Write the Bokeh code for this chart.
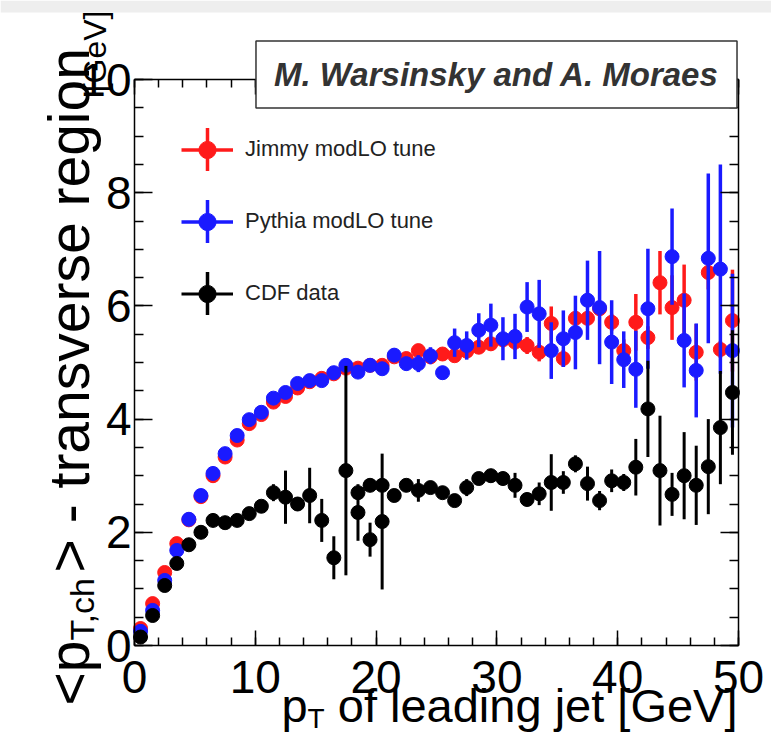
import math
from bokeh.plotting import figure
from bokeh.models import (ColumnDataSource, Range1d, LinearAxis, SingleIntervalTicker,
                          Label, Legend, LegendItem, BoxAnnotation, CustomLabelingPolicy)
from bokeh.embed import file_html
from bokeh.resources import INLINE

# ---------------- data ----------------
pt_bins = [0.5, 1.5, 2.5, 3.5, 4.5, 5.5, 6.5, 7.5, 8.5, 9.5,
           10.5, 11.5, 12.5, 13.5, 14.5, 15.5, 16.5, 17.5, 18.5, 19.5,
           20.5, 21.5, 22.5, 23.5, 24.5, 25.5, 26.5, 27.5, 28.5, 29.5,
           30.5, 31.5, 32.5, 33.5, 34.5, 35.5, 36.5, 37.5, 38.5, 39.5,
           40.5, 41.5, 42.5, 43.5, 44.5, 45.5, 46.5, 47.5, 48.5, 49.5]

jimmy_y = [0.30, 0.74, 1.29, 1.80, 2.22, 2.63, 3.00, 3.33, 3.63, 3.92,
           4.08, 4.30, 4.40, 4.55, 4.66, 4.72, 4.80, 4.90, 4.90, 4.95,
           4.95, 5.10, 5.07, 5.21, 5.10, 5.15, 5.12, 5.20, 5.27, 5.33,
           5.40, 5.36, 5.30, 5.18, 5.69, 5.07, 5.78, 5.78, 5.95, 5.71,
           5.21, 5.71, 5.44, 6.41, 5.97, 6.10, 5.18, 6.59, 5.23, 5.74]
jimmy_err = [0.03, 0.03, 0.03, 0.03, 0.03, 0.03, 0.03, 0.03, 0.03, 0.03,
             0.04, 0.04, 0.04, 0.05, 0.05, 0.05, 0.05, 0.06, 0.06, 0.06,
             0.07, 0.08, 0.08, 0.09, 0.09, 0.10, 0.10, 0.11, 0.12, 0.12,
             0.13, 0.14, 0.15, 0.16, 0.30, 0.15, 0.12, 0.12, 0.12, 0.15,
             0.20, 0.50, 0.20, 0.56, 0.57, 0.63, 0.50, 0.30, 0.15, 0.90]

pythia_y = [0.25, 0.62, 1.15, 1.68, 2.23, 2.65, 3.04, 3.39, 3.71, 3.99,
            4.12, 4.37, 4.47, 4.63, 4.68, 4.68, 4.82, 4.95, 4.83, 4.95,
            4.89, 5.13, 4.98, 4.98, 5.12, 4.82, 5.35, 5.30, 5.57, 5.66,
            5.42, 5.46, 5.98, 5.86, 5.21, 5.42, 5.53, 6.10, 5.97, 5.36,
            5.05, 4.88, 5.95, float("nan"), 6.87, 5.39, 4.86, 6.84, 6.65, 5.21]
pythia_err = [0.03, 0.03, 0.03, 0.03, 0.03, 0.03, 0.03, 0.03, 0.03, 0.03,
              0.04, 0.04, 0.05, 0.05, 0.05, 0.06, 0.06, 0.06, 0.07, 0.08,
              0.09, 0.12, 0.12, 0.15, 0.15, 0.12, 0.25, 0.25, 0.30, 0.38,
              0.38, 0.40, 0.44, 0.60, 0.50, 0.50, 0.65, 0.70, 1.00, 0.74,
              0.50, 0.68, 1.06, 0.80, 0.85, 0.83, 0.83, 1.50, 1.85, 1.36]

cdf_mb_x = [0.5, 1.5, 2.5, 3.5, 4.5, 5.5, 6.5, 7.5, 8.5, 9.5,
            10.5, 11.5, 12.5, 13.5, 14.5, 15.5, 16.5, 17.5, 18.5, 19.5, 20.5]
cdf_mb_y = [0.15, 0.53, 1.06, 1.45, 1.78, 2.00, 2.21, 2.17, 2.21, 2.33,
            2.46, 2.70, 2.62, 2.50, 2.65, 2.21, 1.55, 3.09, 2.35, 1.87, 2.19]
cdf_mb_err = [0.03, 0.04, 0.05, 0.05, 0.06, 0.06, 0.07, 0.08, 0.09, 0.10,
              0.10, 0.15, 0.47, 0.12, 0.49, 0.38, 0.38, 1.85, 0.50, 0.30, 1.20]

cdf_jet_x = [18.5, 19.5, 20.5, 21.5, 22.5, 23.5, 24.5, 25.5, 26.5, 27.5,
             28.5, 29.5, 30.5, 31.5, 32.5, 33.5, 34.5, 35.5, 36.5, 37.5,
             38.5, 39.5, 40.5, 41.5, 42.5, 43.5, 44.5, 45.5, 46.5, 47.5,
             48.5, 49.5]
cdf_jet_y = [2.70, 2.83, 2.83, 2.65, 2.83, 2.74, 2.79, 2.70, 2.56, 2.79,
             2.95, 3.00, 2.95, 2.83, 2.58, 2.68, 2.88, 2.88, 3.21, 2.86,
             2.56, 2.91, 2.88, 3.15, 4.18, 3.09, 2.67, 3.00, 2.83, 3.16,
             3.85, 4.47]
cdf_jet_err = [0.08, 0.08, 0.10, 0.10, 0.10, 0.20, 0.10, 0.10, 0.10, 0.15,
               0.10, 0.12, 0.12, 0.22, 0.12, 0.20, 0.50, 0.20, 0.15, 0.30,
               0.17, 0.20, 0.15, 0.50, 0.85, 0.97, 0.38, 0.77, 0.70, 0.84,
               1.00, 1.10]

series_labels = ["Jimmy modLO tune", "Pythia modLO tune", "CDF data"]
x_lim = (0, 50)
y_lim = (0, 10)
x_major = 10
y_major = 2

# ---------------- layout (picture pixels) ----------------
FONT = "Liberation Sans"
OFF = 0
W, H = 771, 744
FL, FR, FT, FB = 134 - OFF, 738 - OFF, 79 - OFF, 645 - OFF   # plotting box on canvas
sx_per = (FR - FL) / (x_lim[1] - x_lim[0])
sy_per = (FB - FT) / (y_lim[1] - y_lim[0])
xr = Range1d(x_lim[0] - FL / sx_per, x_lim[1] + (W - FR) / sx_per)
yr = Range1d(y_lim[0] - (H - FB) / sy_per, y_lim[1] + FT / sy_per)


def cx(px):
    return px - OFF


def cy(py):
    return H - (py - OFF)


def make_src(x, y, e):
    lo = [v - d for v, d in zip(y, e)]
    hi = [v + d for v, d in zip(y, e)]
    return ColumnDataSource(dict(x=x, y=y, lo=lo, hi=hi))


p = figure(width=W, height=H, x_range=xr, y_range=yr,
           min_border=0, min_border_left=0, min_border_right=0,
           min_border_top=0, min_border_bottom=0,
           output_backend="svg", toolbar_location=None)
p.title.visible = False
p.grid.visible = False
p.background_fill_color = "white"
p.border_fill_color = "white"
p.outline_line_color = None

no_labels = CustomLabelingPolicy(code="return new Set()")


def style_axis(ax, major_in, minor_in, standoff):
    ax.axis_line_color = "black"
    ax.axis_line_width = 1.5
    ax.major_tick_in = major_in
    ax.major_tick_out = 0
    ax.minor_tick_in = minor_in
    ax.minor_tick_out = 0
    ax.major_tick_line_color = "black"
    ax.major_tick_line_width = 1.5
    ax.minor_tick_line_color = "black"
    ax.minor_tick_line_width = 1.5
    ax.major_label_text_font = FONT
    ax.major_label_text_color = "black"
    ax.major_label_text_font_size = "46px"
    ax.major_label_standoff = standoff


bx = p.xaxis[0]
bx.ticker = SingleIntervalTicker(interval=x_major, num_minor_ticks=5)
bx.fixed_location = y_lim[0]
bx.bounds = x_lim
style_axis(bx, 15, 8, 15)

ly = p.yaxis[0]
ly.ticker = SingleIntervalTicker(interval=y_major, num_minor_ticks=4)
ly.fixed_location = x_lim[0]
ly.bounds = y_lim
style_axis(ly, 18, 9, 3)

top_ax = LinearAxis(ticker=SingleIntervalTicker(interval=x_major, num_minor_ticks=5),
                    fixed_location=y_lim[1], bounds=x_lim, major_label_policy=no_labels)
style_axis(top_ax, 15, 8, 0)
p.add_layout(top_ax, "above")
right_ax = LinearAxis(ticker=SingleIntervalTicker(interval=y_major, num_minor_ticks=4),
                      fixed_location=x_lim[1], bounds=y_lim, major_label_policy=no_labels)
style_axis(right_ax, 18, 9, 0)
p.add_layout(right_ax, "right")

# thin grey strip at the very top of the picture
p.add_layout(BoxAnnotation(left=0, right=W, top=H, bottom=H - 12,
                           left_units="screen", right_units="screen",
                           top_units="screen", bottom_units="screen",
                           fill_color="#eeeeee", fill_alpha=1, line_color=None,
                           level="underlay"))

# ---------------- series ----------------
src_j = make_src(pt_bins, jimmy_y, jimmy_err)
src_p = make_src(pt_bins, pythia_y, pythia_err)
src_mb = make_src(cdf_mb_x, cdf_mb_y, cdf_mb_err)
src_jet = make_src(cdf_jet_x, cdf_jet_y, cdf_jet_err)

RED = "#ff1a1a"
BLUE = "#1a1aff"
BLACK = "black"
MS = 14
EW = 3.5

j_seg = p.segment(x0="x", y0="lo", x1="x", y1="hi", source=src_j, line_color=RED, line_width=EW)
j_pts = p.scatter("x", "y", source=src_j, size=MS, color=RED)
p_seg = p.segment(x0="x", y0="lo", x1="x", y1="hi", source=src_p, line_color=BLUE, line_width=EW)
p_pts = p.scatter("x", "y", source=src_p, size=MS, color=BLUE)
mb_seg = p.segment(x0="x", y0="lo", x1="x", y1="hi", source=src_mb, line_color=BLACK, line_width=3)
mb_pts = p.scatter("x", "y", source=src_mb, size=MS, color=BLACK)
jet_seg = p.segment(x0="x", y0="lo", x1="x", y1="hi", source=src_jet, line_color=BLACK, line_width=3)
jet_pts = p.scatter("x", "y", source=src_jet, size=MS, color=BLACK)

# ---------------- legend ----------------
LG_X, LG_TOP = 181, 127.5          # glyph-box left edge / legend top
GW, GH, SP = 52, 43, 29
key_colors = [RED, BLUE, BLACK]
for i, c in enumerate(key_colors):
    kx = LG_X + GW / 2
    ky = LG_TOP + i * (GH + SP) + GH / 2
    p.add_layout(BoxAnnotation(left=cx(kx) - 1.75, right=cx(kx) + 1.75,
                               top=cy(ky - GH / 2), bottom=cy(ky + GH / 2),
                               left_units="screen", right_units="screen",
                               top_units="screen", bottom_units="screen",
                               fill_color=c, fill_alpha=1, line_color=None))

legend = Legend(items=[
    LegendItem(label=series_labels[0], renderers=[j_seg, j_pts]),
    LegendItem(label=series_labels[1], renderers=[p_seg, p_pts]),
    LegendItem(label=series_labels[2], renderers=[jet_seg, jet_pts]),
], location=(cx(LG_X), cy(LG_TOP + 3 * GH + 2 * SP)), glyph_width=GW, glyph_height=GH,
    label_height=GH, spacing=SP, padding=0, margin=0, label_standoff=12,
    border_line_color=None, background_fill_alpha=0,
    label_text_font=FONT, label_text_font_size="22px", label_text_color="#222222")
p.add_layout(legend)

# ---------------- author box ----------------
author = "M. Warsinsky and A. Moraes"
pad = dict(left=18, right=18, top=15, bottom=15)
BOX_CX, BOX_CY = 496, 74
shadow = Label(x=cx(BOX_CX) + 3, y=cy(BOX_CY) - 3, x_units="screen", y_units="screen", text=author,
               text_font=FONT, text_font_style="bold italic", text_font_size="33px",
               text_align="center", text_baseline="middle", text_alpha=0,
               background_fill_color="#333333", border_line_color="#333333", padding=pad)
box = Label(x=cx(BOX_CX), y=cy(BOX_CY), x_units="screen", y_units="screen", text=author,
            text_font=FONT, text_font_style="bold italic", text_font_size="33px",
            text_color="#333333", text_align="center", text_baseline="middle",
            background_fill_color="white", border_line_color="#333333",
            border_line_width=1.5, padding=pad)
p.add_layout(shadow)
p.add_layout(box)

# ---------------- axis titles (with subscripts) ----------------
CW = {'<': 584, '>': 584, 'p': 556, 'T': 611, ',': 278, 'c': 500, 'h': 556, ' ': 278,
      '-': 333, 't': 278, 'r': 333, 'a': 556, 'n': 556, 's': 500, 'v': 500, 'e': 556,
      'g': 556, 'i': 222, 'o': 556, 'f': 278, 'l': 222, 'd': 556, 'j': 222, '[': 278,
      'G': 778, 'V': 667, ']': 278}


def tw(s, size):
    return sum(CW.get(ch, 556) for ch in s) / 1000.0 * size


def lab(px, py, text, size, align="left", angle=0.0, baseline="alphabetic"):
    p.add_layout(Label(x=cx(px), y=cy(py), x_units="screen", y_units="screen", text=text,
                       text_font=FONT, text_font_size=f"{size}px", text_color="black",
                       text_align=align, text_baseline=baseline, angle=angle))


# y title: "<p_{T,ch}> - transverse region"  and "[GeV]"
YT, YS = 57, 34
ybase = 68
ystart = 705
lab(ybase, ystart, "<p", YT, "left", math.pi / 2)
y1 = ystart - tw("<p", YT)
lab(ybase + 13, y1, "T,ch", YS, "left", math.pi / 2)
y2 = y1 - tw("T,ch", YS) - 2
lab(ybase, y2, "> - transverse region", YT, "left", math.pi / 2)
lab(94, 10, "[GeV]", 32, "right", math.pi / 2)

# x title: "p_T of leading jet [GeV]"  (text centres given, middle baseline)
XT, XS = 47, 28
xmid = 705
xright = 737
part = "of leading jet [GeV]"
lab(xright, xmid, part, XT, "right", baseline="middle")
xs = xright - tw(part, XT) - tw(" ", XT)
lab(xs, xmid + 13, "T", XS, "right", baseline="middle")
lab(xs - tw("T", XS), xmid, "p", XT, "right", baseline="middle")

open("out.html", "w").write(file_html(p, INLINE))
